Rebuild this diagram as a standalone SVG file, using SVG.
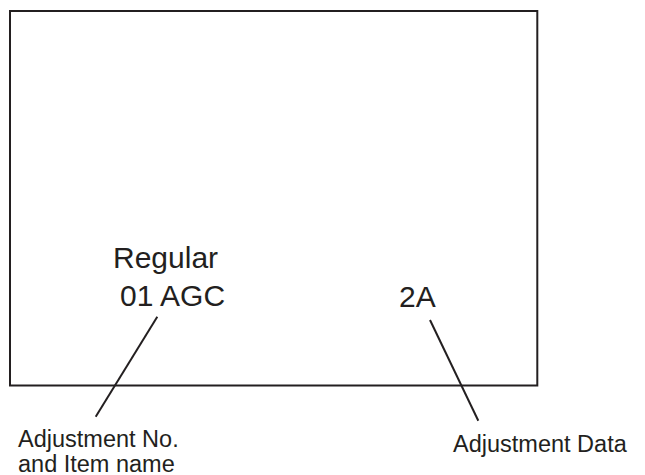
<svg xmlns="http://www.w3.org/2000/svg" width="645" height="475" viewBox="0 0 645 475">
  <style>
    .frame { fill: none; stroke: #231f20; stroke-width: 2; }
    .leader { stroke: #231f20; stroke-width: 2; fill: none; }
    .big { font-family: "Liberation Sans", Arial, sans-serif; font-size: 30px; fill: #231f20; }
    .small { font-family: "Liberation Sans", Arial, sans-serif; font-size: 23.5px; fill: #231f20; }
  </style>
  <rect width="645" height="475" fill="#ffffff"/>
  <g id="screen">
    <rect class="frame" x="10" y="11" width="527.3" height="374.5"/>
  </g>
  <g id="item">
    <text class="big" x="113" y="268">Regular</text>
    <text class="big" x="120" y="306">01 AGC</text>
  </g>
  <g id="data">
    <text class="big" x="399" y="306.5">2A</text>
  </g>
  <g id="label-item">
    <text class="small" x="18" y="446.5">Adjustment No.</text>
    <text class="small" x="18" y="472">and Item name</text>
  </g>
  <g id="label-data">
    <text class="small" x="453" y="452">Adjustment Data</text>
  </g>
  <g id="connectors">
    <line class="leader" x1="157.3" y1="316.7" x2="95.7" y2="416.7"/>
    <line class="leader" x1="430" y1="320" x2="478.3" y2="420.7"/>
  </g>
</svg>
